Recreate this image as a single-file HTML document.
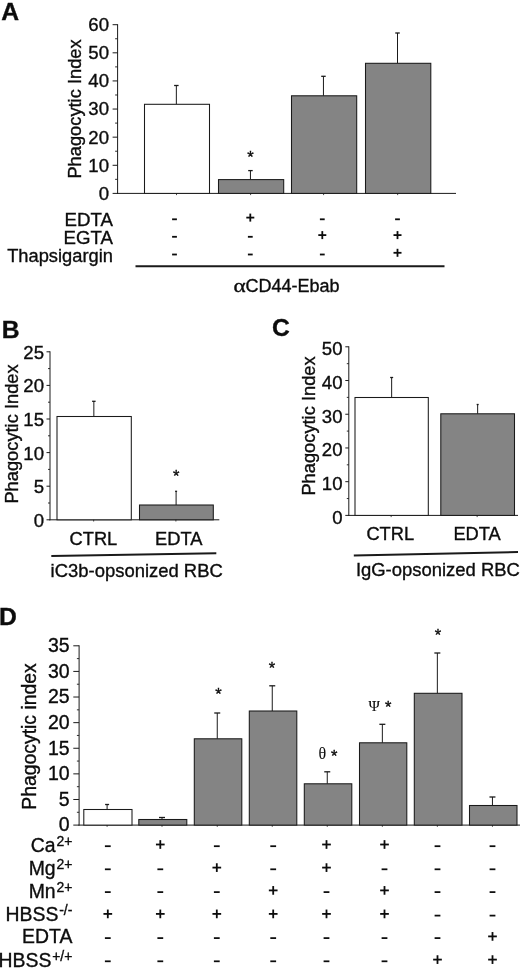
<!DOCTYPE html>
<html><head><meta charset="utf-8"><title>Figure</title>
<style>
html,body{margin:0;padding:0;background:#fff;}
body{width:520px;height:968px;overflow:hidden;font-family:"Liberation Sans",sans-serif;}
svg{display:block;will-change:transform;filter:blur(0.35px);}
svg text{font-family:"Liberation Sans",sans-serif;fill:#0c0c0c;stroke:#0c0c0c;stroke-width:0.35px;}
</style></head><body>
<svg width="520" height="968" viewBox="0 0 520 968">
<rect x="0" y="0" width="520" height="968" fill="#ffffff"/>
<text x="1.3" y="20.3" font-size="24.7" text-anchor="start" font-weight="bold" style="font-family:Liberation Sans" >A</text>
<line x1="117.6" y1="24.2" x2="117.6" y2="193.9" stroke="#1a1a1a" stroke-width="1.0"/>
<line x1="112.6" y1="24.7" x2="117.6" y2="24.7" stroke="#1a1a1a" stroke-width="1.0"/>
<text x="109" y="31.1" font-size="18.6" text-anchor="end" font-weight="normal" style="font-family:Liberation Sans" >60</text>
<line x1="115.1" y1="38.75833333333333" x2="117.6" y2="38.75833333333333" stroke="#1a1a1a" stroke-width="0.9"/>
<line x1="112.6" y1="52.81666666666667" x2="117.6" y2="52.81666666666667" stroke="#1a1a1a" stroke-width="1.0"/>
<text x="109" y="59.21666666666667" font-size="18.6" text-anchor="end" font-weight="normal" style="font-family:Liberation Sans" >50</text>
<line x1="115.1" y1="66.875" x2="117.6" y2="66.875" stroke="#1a1a1a" stroke-width="0.9"/>
<line x1="112.6" y1="80.93333333333334" x2="117.6" y2="80.93333333333334" stroke="#1a1a1a" stroke-width="1.0"/>
<text x="109" y="87.33333333333334" font-size="18.6" text-anchor="end" font-weight="normal" style="font-family:Liberation Sans" >40</text>
<line x1="115.1" y1="94.99166666666667" x2="117.6" y2="94.99166666666667" stroke="#1a1a1a" stroke-width="0.9"/>
<line x1="112.6" y1="109.05000000000001" x2="117.6" y2="109.05000000000001" stroke="#1a1a1a" stroke-width="1.0"/>
<text x="109" y="115.45000000000002" font-size="18.6" text-anchor="end" font-weight="normal" style="font-family:Liberation Sans" >30</text>
<line x1="115.1" y1="123.10833333333335" x2="117.6" y2="123.10833333333335" stroke="#1a1a1a" stroke-width="0.9"/>
<line x1="112.6" y1="137.16666666666669" x2="117.6" y2="137.16666666666669" stroke="#1a1a1a" stroke-width="1.0"/>
<text x="109" y="143.5666666666667" font-size="18.6" text-anchor="end" font-weight="normal" style="font-family:Liberation Sans" >20</text>
<line x1="115.1" y1="151.22500000000002" x2="117.6" y2="151.22500000000002" stroke="#1a1a1a" stroke-width="0.9"/>
<line x1="112.6" y1="165.28333333333333" x2="117.6" y2="165.28333333333333" stroke="#1a1a1a" stroke-width="1.0"/>
<text x="109" y="171.68333333333334" font-size="18.6" text-anchor="end" font-weight="normal" style="font-family:Liberation Sans" >10</text>
<line x1="115.1" y1="179.34166666666667" x2="117.6" y2="179.34166666666667" stroke="#1a1a1a" stroke-width="0.9"/>
<line x1="112.6" y1="193.4" x2="117.6" y2="193.4" stroke="#1a1a1a" stroke-width="1.0"/>
<text x="109" y="199.8" font-size="18.6" text-anchor="end" font-weight="normal" style="font-family:Liberation Sans" >0</text>
<line x1="117.0" y1="193.4" x2="456" y2="193.4" stroke="#1a1a1a" stroke-width="1.0"/>
<line x1="176.35" y1="104.3" x2="176.35" y2="85.5" stroke="#1a1a1a" stroke-width="1.0"/>
<line x1="174.1" y1="85.5" x2="178.6" y2="85.5" stroke="#1a1a1a" stroke-width="1.3"/>
<rect x="144.5" y="104.3" width="65.0" height="89.10000000000001" fill="#ffffff" stroke="#1a1a1a" stroke-width="1.05"/>
<line x1="176.5" y1="193.4" x2="176.5" y2="195.1" stroke="#1a1a1a" stroke-width="0.8"/>
<line x1="250.45" y1="179.6" x2="250.45" y2="170.6" stroke="#1a1a1a" stroke-width="1.0"/>
<line x1="248.2" y1="170.6" x2="252.7" y2="170.6" stroke="#1a1a1a" stroke-width="1.3"/>
<rect x="218.5" y="179.6" width="65.19999999999999" height="13.800000000000011" fill="#848484" stroke="#1a1a1a" stroke-width="1.05"/>
<line x1="250.6" y1="193.4" x2="250.6" y2="195.1" stroke="#1a1a1a" stroke-width="0.8"/>
<line x1="323.45000000000005" y1="95.8" x2="323.45000000000005" y2="76.3" stroke="#1a1a1a" stroke-width="1.0"/>
<line x1="321.20000000000005" y1="76.3" x2="325.70000000000005" y2="76.3" stroke="#1a1a1a" stroke-width="1.3"/>
<rect x="291.5" y="95.8" width="65.19999999999999" height="97.60000000000001" fill="#848484" stroke="#1a1a1a" stroke-width="1.05"/>
<line x1="323.6" y1="193.4" x2="323.6" y2="195.1" stroke="#1a1a1a" stroke-width="0.8"/>
<line x1="397.5" y1="63.3" x2="397.5" y2="33.0" stroke="#1a1a1a" stroke-width="1.0"/>
<line x1="395.25" y1="33.0" x2="399.75" y2="33.0" stroke="#1a1a1a" stroke-width="1.3"/>
<rect x="365.5" y="63.3" width="65.30000000000001" height="130.10000000000002" fill="#848484" stroke="#1a1a1a" stroke-width="1.05"/>
<line x1="397.65" y1="193.4" x2="397.65" y2="195.1" stroke="#1a1a1a" stroke-width="0.8"/>
<text x="250.5" y="162.57" font-size="16.5" text-anchor="middle" font-weight="normal" style="font-family:Liberation Sans" >*</text>
<text transform="translate(81,109) rotate(-90)" font-size="18.3" text-anchor="middle">Phagocytic Index</text>
<text x="0" y="0" font-size="18.3" text-anchor="end" font-weight="normal" style="font-family:Liberation Sans"  transform="translate(112.9,225.6) scale(1.02,0.955)">EDTA</text>
<text x="0" y="0" font-size="18.3" text-anchor="end" font-weight="normal" style="font-family:Liberation Sans"  transform="translate(112.9,243.8) scale(1.02,0.955)">EGTA</text>
<text x="0" y="0" font-size="18.3" text-anchor="end" font-weight="normal" style="font-family:Liberation Sans"  transform="translate(112.9,262.0) scale(1.0,0.955)">Thapsigargin</text>
<rect x="172.1" y="218.4" width="4.8" height="1.8" fill="#0c0c0c"/>
<rect x="246.3" y="216.70000000000002" width="8.0" height="1.8" fill="#0c0c0c"/>
<rect x="249.4" y="213.60000000000002" width="1.8" height="8.0" fill="#0c0c0c"/>
<rect x="319.90000000000003" y="218.4" width="4.8" height="1.8" fill="#0c0c0c"/>
<rect x="395.1" y="218.4" width="4.8" height="1.8" fill="#0c0c0c"/>
<rect x="172.1" y="235.9" width="4.8" height="1.8" fill="#0c0c0c"/>
<rect x="247.9" y="235.9" width="4.8" height="1.8" fill="#0c0c0c"/>
<rect x="318.3" y="234.20000000000002" width="8.0" height="1.8" fill="#0c0c0c"/>
<rect x="321.40000000000003" y="231.10000000000002" width="1.8" height="8.0" fill="#0c0c0c"/>
<rect x="393.5" y="234.20000000000002" width="8.0" height="1.8" fill="#0c0c0c"/>
<rect x="396.6" y="231.10000000000002" width="1.8" height="8.0" fill="#0c0c0c"/>
<rect x="172.1" y="253.6" width="4.8" height="1.8" fill="#0c0c0c"/>
<rect x="247.9" y="253.6" width="4.8" height="1.8" fill="#0c0c0c"/>
<rect x="319.90000000000003" y="253.6" width="4.8" height="1.8" fill="#0c0c0c"/>
<rect x="393.5" y="251.9" width="8.0" height="1.8" fill="#0c0c0c"/>
<rect x="396.6" y="248.8" width="1.8" height="8.0" fill="#0c0c0c"/>
<line x1="135.5" y1="266.3" x2="444.5" y2="266.3" stroke="#1a1a1a" stroke-width="2.0"/>
<text transform="translate(233.6,292.4) scale(1.22,0.95)" font-size="19" style="font-family:Liberation Serif">α</text>
<text x="245.4" y="292.4" font-size="18.0" text-anchor="start" font-weight="normal" style="font-family:Liberation Sans" >CD44-Ebab</text>
<text x="1.8" y="338.2" font-size="24.7" text-anchor="start" font-weight="bold" style="font-family:Liberation Sans" >B</text>
<line x1="50" y1="351.3" x2="50" y2="520.3" stroke="#1a1a1a" stroke-width="1.0"/>
<line x1="46.5" y1="351.8" x2="50" y2="351.8" stroke="#1a1a1a" stroke-width="1.0"/>
<text x="44.0" y="358.7" font-size="18.6" text-anchor="end" font-weight="normal" style="font-family:Liberation Sans" >25</text>
<line x1="48" y1="368.6" x2="50" y2="368.6" stroke="#1a1a1a" stroke-width="0.9"/>
<line x1="46.5" y1="385.4" x2="50" y2="385.4" stroke="#1a1a1a" stroke-width="1.0"/>
<text x="44.0" y="392.29999999999995" font-size="18.6" text-anchor="end" font-weight="normal" style="font-family:Liberation Sans" >20</text>
<line x1="48" y1="402.2" x2="50" y2="402.2" stroke="#1a1a1a" stroke-width="0.9"/>
<line x1="46.5" y1="419.0" x2="50" y2="419.0" stroke="#1a1a1a" stroke-width="1.0"/>
<text x="44.0" y="425.9" font-size="18.6" text-anchor="end" font-weight="normal" style="font-family:Liberation Sans" >15</text>
<line x1="48" y1="435.8" x2="50" y2="435.8" stroke="#1a1a1a" stroke-width="0.9"/>
<line x1="46.5" y1="452.59999999999997" x2="50" y2="452.59999999999997" stroke="#1a1a1a" stroke-width="1.0"/>
<text x="44.0" y="459.49999999999994" font-size="18.6" text-anchor="end" font-weight="normal" style="font-family:Liberation Sans" >10</text>
<line x1="48" y1="469.4" x2="50" y2="469.4" stroke="#1a1a1a" stroke-width="0.9"/>
<line x1="46.5" y1="486.19999999999993" x2="50" y2="486.19999999999993" stroke="#1a1a1a" stroke-width="1.0"/>
<text x="44.0" y="493.0999999999999" font-size="18.6" text-anchor="end" font-weight="normal" style="font-family:Liberation Sans" >5</text>
<line x1="48" y1="502.99999999999994" x2="50" y2="502.99999999999994" stroke="#1a1a1a" stroke-width="0.9"/>
<line x1="46.5" y1="519.8" x2="50" y2="519.8" stroke="#1a1a1a" stroke-width="1.0"/>
<text x="44.0" y="526.6999999999999" font-size="18.6" text-anchor="end" font-weight="normal" style="font-family:Liberation Sans" >0</text>
<line x1="49.4" y1="519.8" x2="219.3" y2="519.8" stroke="#1a1a1a" stroke-width="1.0"/>
<line x1="93.85000000000001" y1="416.5" x2="93.85000000000001" y2="401.3" stroke="#1a1a1a" stroke-width="1.0"/>
<line x1="92.10000000000001" y1="401.3" x2="95.60000000000001" y2="401.3" stroke="#1a1a1a" stroke-width="1.3"/>
<rect x="57" y="416.5" width="74.30000000000001" height="103.29999999999995" fill="#ffffff" stroke="#1a1a1a" stroke-width="1.05"/>
<line x1="93.65" y1="519.8" x2="93.65" y2="521.5" stroke="#1a1a1a" stroke-width="0.8"/>
<line x1="176.1" y1="505" x2="176.1" y2="491.3" stroke="#1a1a1a" stroke-width="1.0"/>
<line x1="175.1" y1="491.3" x2="177.1" y2="491.3" stroke="#1a1a1a" stroke-width="1.3"/>
<rect x="139.5" y="505" width="73.80000000000001" height="14.799999999999955" fill="#848484" stroke="#1a1a1a" stroke-width="1.05"/>
<line x1="175.9" y1="519.8" x2="175.9" y2="521.5" stroke="#1a1a1a" stroke-width="0.8"/>
<text x="176.3" y="481.57" font-size="16.5" text-anchor="middle" font-weight="normal" style="font-family:Liberation Sans" >*</text>
<text transform="translate(18,434) rotate(-90)" font-size="18.3" text-anchor="middle">Phagocytic Index</text>
<text x="93.4" y="544.7" font-size="18.3" text-anchor="middle" font-weight="normal" style="font-family:Liberation Sans" >CTRL</text>
<text x="178.8" y="544.7" font-size="18.3" text-anchor="middle" font-weight="normal" style="font-family:Liberation Sans" >EDTA</text>
<line x1="51.3" y1="556.0" x2="216.3" y2="553.3" stroke="#1a1a1a" stroke-width="2.0"/>
<text x="50.6" y="577.0" font-size="18.45" text-anchor="start" font-weight="normal" style="font-family:Liberation Sans" >iC3b-opsonized RBC</text>
<text x="272" y="336.1" font-size="24.7" text-anchor="start" font-weight="bold" style="font-family:Liberation Sans" >C</text>
<line x1="348.8" y1="346.3" x2="348.8" y2="515.9" stroke="#1a1a1a" stroke-width="1.0"/>
<line x1="345.3" y1="346.8" x2="348.8" y2="346.8" stroke="#1a1a1a" stroke-width="1.0"/>
<text x="342.5" y="355.09999999999997" font-size="18.6" text-anchor="end" font-weight="normal" style="font-family:Liberation Sans" >50</text>
<line x1="346.8" y1="363.66" x2="348.8" y2="363.66" stroke="#1a1a1a" stroke-width="0.9"/>
<line x1="345.3" y1="380.52" x2="348.8" y2="380.52" stroke="#1a1a1a" stroke-width="1.0"/>
<text x="342.5" y="388.81999999999994" font-size="18.6" text-anchor="end" font-weight="normal" style="font-family:Liberation Sans" >40</text>
<line x1="346.8" y1="397.38" x2="348.8" y2="397.38" stroke="#1a1a1a" stroke-width="0.9"/>
<line x1="345.3" y1="414.24" x2="348.8" y2="414.24" stroke="#1a1a1a" stroke-width="1.0"/>
<text x="342.5" y="422.53999999999996" font-size="18.6" text-anchor="end" font-weight="normal" style="font-family:Liberation Sans" >30</text>
<line x1="346.8" y1="431.1" x2="348.8" y2="431.1" stroke="#1a1a1a" stroke-width="0.9"/>
<line x1="345.3" y1="447.96" x2="348.8" y2="447.96" stroke="#1a1a1a" stroke-width="1.0"/>
<text x="342.5" y="456.25999999999993" font-size="18.6" text-anchor="end" font-weight="normal" style="font-family:Liberation Sans" >20</text>
<line x1="346.8" y1="464.82" x2="348.8" y2="464.82" stroke="#1a1a1a" stroke-width="0.9"/>
<line x1="345.3" y1="481.67999999999995" x2="348.8" y2="481.67999999999995" stroke="#1a1a1a" stroke-width="1.0"/>
<text x="342.5" y="489.9799999999999" font-size="18.6" text-anchor="end" font-weight="normal" style="font-family:Liberation Sans" >10</text>
<line x1="346.8" y1="498.53999999999996" x2="348.8" y2="498.53999999999996" stroke="#1a1a1a" stroke-width="0.9"/>
<line x1="345.3" y1="515.4" x2="348.8" y2="515.4" stroke="#1a1a1a" stroke-width="1.0"/>
<text x="342.5" y="523.6999999999999" font-size="18.6" text-anchor="end" font-weight="normal" style="font-family:Liberation Sans" >0</text>
<line x1="348.2" y1="515.4" x2="518" y2="515.4" stroke="#1a1a1a" stroke-width="1.0"/>
<line x1="391.65" y1="397.5" x2="391.65" y2="377.5" stroke="#1a1a1a" stroke-width="1.0"/>
<line x1="390.15" y1="377.5" x2="393.15" y2="377.5" stroke="#1a1a1a" stroke-width="1.3"/>
<rect x="355" y="397.5" width="73.30000000000001" height="117.89999999999998" fill="#ffffff" stroke="#1a1a1a" stroke-width="1.05"/>
<line x1="391.15" y1="515.4" x2="391.15" y2="517.1" stroke="#1a1a1a" stroke-width="0.8"/>
<line x1="477.65" y1="413.8" x2="477.65" y2="404.5" stroke="#1a1a1a" stroke-width="1.0"/>
<line x1="476.65" y1="404.5" x2="478.65" y2="404.5" stroke="#1a1a1a" stroke-width="1.3"/>
<rect x="440.8" y="413.8" width="73.69999999999999" height="101.59999999999997" fill="#848484" stroke="#1a1a1a" stroke-width="1.05"/>
<line x1="477.15" y1="515.4" x2="477.15" y2="517.1" stroke="#1a1a1a" stroke-width="0.8"/>
<text transform="translate(315,426) rotate(-90)" font-size="18.3" text-anchor="middle">Phagocytic Index</text>
<text x="390.3" y="540.2" font-size="18.3" text-anchor="middle" font-weight="normal" style="font-family:Liberation Sans" >CTRL</text>
<text x="477.1" y="540.2" font-size="18.3" text-anchor="middle" font-weight="normal" style="font-family:Liberation Sans" >EDTA</text>
<line x1="353.8" y1="555.6" x2="518" y2="552.1" stroke="#1a1a1a" stroke-width="2.0"/>
<text x="355.9" y="576.3" font-size="18.45" text-anchor="start" font-weight="normal" style="font-family:Liberation Sans" >IgG-opsonized RBC</text>
<text x="-1.0" y="624.5" font-size="24.7" text-anchor="start" font-weight="bold" style="font-family:Liberation Sans" >D</text>
<line x1="79.1" y1="645.3" x2="79.1" y2="825.6" stroke="#1a1a1a" stroke-width="1.0"/>
<line x1="73.3" y1="645.8" x2="79.1" y2="645.8" stroke="#1a1a1a" stroke-width="1.0"/>
<text x="69.6" y="652.0999999999999" font-size="19.5" text-anchor="end" font-weight="normal" style="font-family:Liberation Sans" >35</text>
<line x1="76.89999999999999" y1="658.6071428571428" x2="79.1" y2="658.6071428571428" stroke="#1a1a1a" stroke-width="0.9"/>
<line x1="73.3" y1="671.4142857142857" x2="79.1" y2="671.4142857142857" stroke="#1a1a1a" stroke-width="1.0"/>
<text x="69.6" y="677.7142857142857" font-size="19.5" text-anchor="end" font-weight="normal" style="font-family:Liberation Sans" >30</text>
<line x1="76.89999999999999" y1="684.2214285714285" x2="79.1" y2="684.2214285714285" stroke="#1a1a1a" stroke-width="0.9"/>
<line x1="73.3" y1="697.0285714285714" x2="79.1" y2="697.0285714285714" stroke="#1a1a1a" stroke-width="1.0"/>
<text x="69.6" y="703.3285714285713" font-size="19.5" text-anchor="end" font-weight="normal" style="font-family:Liberation Sans" >25</text>
<line x1="76.89999999999999" y1="709.8357142857142" x2="79.1" y2="709.8357142857142" stroke="#1a1a1a" stroke-width="0.9"/>
<line x1="73.3" y1="722.6428571428571" x2="79.1" y2="722.6428571428571" stroke="#1a1a1a" stroke-width="1.0"/>
<text x="69.6" y="728.9428571428571" font-size="19.5" text-anchor="end" font-weight="normal" style="font-family:Liberation Sans" >20</text>
<line x1="76.89999999999999" y1="735.4499999999999" x2="79.1" y2="735.4499999999999" stroke="#1a1a1a" stroke-width="0.9"/>
<line x1="73.3" y1="748.2571428571429" x2="79.1" y2="748.2571428571429" stroke="#1a1a1a" stroke-width="1.0"/>
<text x="69.6" y="754.5571428571428" font-size="19.5" text-anchor="end" font-weight="normal" style="font-family:Liberation Sans" >15</text>
<line x1="76.89999999999999" y1="761.0642857142857" x2="79.1" y2="761.0642857142857" stroke="#1a1a1a" stroke-width="0.9"/>
<line x1="73.3" y1="773.8714285714286" x2="79.1" y2="773.8714285714286" stroke="#1a1a1a" stroke-width="1.0"/>
<text x="69.6" y="780.1714285714286" font-size="19.5" text-anchor="end" font-weight="normal" style="font-family:Liberation Sans" >10</text>
<line x1="76.89999999999999" y1="786.6785714285714" x2="79.1" y2="786.6785714285714" stroke="#1a1a1a" stroke-width="0.9"/>
<line x1="73.3" y1="799.4857142857143" x2="79.1" y2="799.4857142857143" stroke="#1a1a1a" stroke-width="1.0"/>
<text x="69.6" y="805.7857142857142" font-size="19.5" text-anchor="end" font-weight="normal" style="font-family:Liberation Sans" >5</text>
<line x1="76.89999999999999" y1="812.2928571428571" x2="79.1" y2="812.2928571428571" stroke="#1a1a1a" stroke-width="0.9"/>
<line x1="73.3" y1="825.1" x2="79.1" y2="825.1" stroke="#1a1a1a" stroke-width="1.0"/>
<text x="69.6" y="831.4" font-size="19.5" text-anchor="end" font-weight="normal" style="font-family:Liberation Sans" >0</text>
<line x1="78.5" y1="825.1" x2="520" y2="825.1" stroke="#1a1a1a" stroke-width="1.0"/>
<line x1="107.10000000000001" y1="809.5" x2="107.10000000000001" y2="804.5" stroke="#1a1a1a" stroke-width="1.0"/>
<line x1="105.10000000000001" y1="804.5" x2="109.10000000000001" y2="804.5" stroke="#1a1a1a" stroke-width="1.3"/>
<rect x="83.8" y="809.5" width="48.2" height="15.600000000000023" fill="#ffffff" stroke="#1a1a1a" stroke-width="1.05"/>
<line x1="107.10000000000001" y1="825.1" x2="107.10000000000001" y2="826.8000000000001" stroke="#1a1a1a" stroke-width="0.8"/>
<line x1="162.0" y1="819.5" x2="162.0" y2="817.5" stroke="#1a1a1a" stroke-width="1.0"/>
<line x1="159.0" y1="817.5" x2="165.0" y2="817.5" stroke="#1a1a1a" stroke-width="1.3"/>
<rect x="138.8" y="819.5" width="48.0" height="5.600000000000023" fill="#848484" stroke="#1a1a1a" stroke-width="1.05"/>
<line x1="162.0" y1="825.1" x2="162.0" y2="826.8000000000001" stroke="#1a1a1a" stroke-width="0.8"/>
<line x1="217.25" y1="738.8" x2="217.25" y2="713" stroke="#1a1a1a" stroke-width="1.0"/>
<line x1="214.25" y1="713" x2="220.25" y2="713" stroke="#1a1a1a" stroke-width="1.3"/>
<rect x="194.3" y="738.8" width="47.5" height="86.30000000000007" fill="#848484" stroke="#1a1a1a" stroke-width="1.05"/>
<line x1="217.25" y1="825.1" x2="217.25" y2="826.8000000000001" stroke="#1a1a1a" stroke-width="0.8"/>
<line x1="272.25" y1="711" x2="272.25" y2="685.8" stroke="#1a1a1a" stroke-width="1.0"/>
<line x1="269.25" y1="685.8" x2="275.25" y2="685.8" stroke="#1a1a1a" stroke-width="1.3"/>
<rect x="249.3" y="711" width="47.5" height="114.10000000000002" fill="#848484" stroke="#1a1a1a" stroke-width="1.05"/>
<line x1="272.25" y1="825.1" x2="272.25" y2="826.8000000000001" stroke="#1a1a1a" stroke-width="0.8"/>
<line x1="327.25" y1="783.8" x2="327.25" y2="771.8" stroke="#1a1a1a" stroke-width="1.0"/>
<line x1="324.25" y1="771.8" x2="330.25" y2="771.8" stroke="#1a1a1a" stroke-width="1.3"/>
<rect x="304.3" y="783.8" width="47.5" height="41.30000000000007" fill="#848484" stroke="#1a1a1a" stroke-width="1.05"/>
<line x1="327.25" y1="825.1" x2="327.25" y2="826.8000000000001" stroke="#1a1a1a" stroke-width="0.8"/>
<line x1="382.34999999999997" y1="742.8" x2="382.34999999999997" y2="724.3" stroke="#1a1a1a" stroke-width="1.0"/>
<line x1="379.34999999999997" y1="724.3" x2="385.34999999999997" y2="724.3" stroke="#1a1a1a" stroke-width="1.3"/>
<rect x="359.5" y="742.8" width="47.30000000000001" height="82.30000000000007" fill="#848484" stroke="#1a1a1a" stroke-width="1.05"/>
<line x1="382.34999999999997" y1="825.1" x2="382.34999999999997" y2="826.8000000000001" stroke="#1a1a1a" stroke-width="0.8"/>
<line x1="437.34999999999997" y1="693.3" x2="437.34999999999997" y2="653" stroke="#1a1a1a" stroke-width="1.0"/>
<line x1="434.34999999999997" y1="653" x2="440.34999999999997" y2="653" stroke="#1a1a1a" stroke-width="1.3"/>
<rect x="414.3" y="693.3" width="47.69999999999999" height="131.80000000000007" fill="#848484" stroke="#1a1a1a" stroke-width="1.05"/>
<line x1="437.34999999999997" y1="825.1" x2="437.34999999999997" y2="826.8000000000001" stroke="#1a1a1a" stroke-width="0.8"/>
<line x1="492.45" y1="805.5" x2="492.45" y2="797" stroke="#1a1a1a" stroke-width="1.0"/>
<line x1="489.45" y1="797" x2="495.45" y2="797" stroke="#1a1a1a" stroke-width="1.3"/>
<rect x="469.5" y="805.5" width="47.5" height="19.600000000000023" fill="#848484" stroke="#1a1a1a" stroke-width="1.05"/>
<line x1="492.45" y1="825.1" x2="492.45" y2="826.8000000000001" stroke="#1a1a1a" stroke-width="0.8"/>
<text transform="translate(36,736.5) rotate(-90)" font-size="19.4" text-anchor="middle">Phagocytic index</text>
<text x="218.5" y="700.37" font-size="16.5" text-anchor="middle" font-weight="normal" style="font-family:Liberation Sans" >*</text>
<text x="272" y="673.57" font-size="16.5" text-anchor="middle" font-weight="normal" style="font-family:Liberation Sans" >*</text>
<text x="438" y="641.07" font-size="16.5" text-anchor="middle" font-weight="normal" style="font-family:Liberation Sans" >*</text>
<text x="318.4" y="759.3" font-size="16" text-anchor="start" font-weight="normal" style="font-family:Liberation Serif;stroke-width:0.08px" >θ</text>
<text x="334.3" y="762.2700000000001" font-size="16.5" text-anchor="middle" font-weight="normal" style="font-family:Liberation Sans" >*</text>
<text x="368.6" y="710.9" font-size="15.4" text-anchor="start" font-weight="normal" style="font-family:Liberation Serif;stroke-width:0.08px" >Ψ</text>
<text x="388.1" y="712.97" font-size="16.5" text-anchor="middle" font-weight="normal" style="font-family:Liberation Sans" >*</text>
<text x="72.4" y="851.8" font-size="19.4" text-anchor="end" font-weight="normal" style="font-family:Liberation Sans" >Ca<tspan font-size="14" dy="-6.0" dx="0.8">2+</tspan></text>
<text x="72.4" y="874.8" font-size="19.4" text-anchor="end" font-weight="normal" style="font-family:Liberation Sans" >Mg<tspan font-size="14" dy="-6.0" dx="0.8">2+</tspan></text>
<text x="72.4" y="897.7" font-size="19.4" text-anchor="end" font-weight="normal" style="font-family:Liberation Sans" >Mn<tspan font-size="14" dy="-6.0" dx="0.8">2+</tspan></text>
<text x="72.4" y="920.7" font-size="19.4" text-anchor="end" font-weight="normal" style="font-family:Liberation Sans" >HBSS<tspan font-size="14" dy="-6.0" dx="0.8">-/-</tspan></text>
<text x="72.4" y="942.9" font-size="19.4" text-anchor="end" font-weight="normal" style="font-family:Liberation Sans" >EDTA</text>
<text x="72.4" y="966.5" font-size="19.4" text-anchor="end" font-weight="normal" style="font-family:Liberation Sans" >HBSS<tspan font-size="14" dy="-6.0" dx="0.8">+/+</tspan></text>
<rect x="104.89999999999999" y="845.325" width="5.8" height="1.75" fill="#0c0c0c"/>
<rect x="155.95000000000002" y="843.6" width="8.7" height="1.8" fill="#0c0c0c"/>
<rect x="159.4" y="840.15" width="1.8" height="8.7" fill="#0c0c0c"/>
<rect x="213.9" y="845.325" width="5.8" height="1.75" fill="#0c0c0c"/>
<rect x="270.3" y="845.325" width="5.8" height="1.75" fill="#0c0c0c"/>
<rect x="322.15" y="843.6" width="8.7" height="1.8" fill="#0c0c0c"/>
<rect x="325.6" y="840.15" width="1.8" height="8.7" fill="#0c0c0c"/>
<rect x="380.15" y="843.6" width="8.7" height="1.8" fill="#0c0c0c"/>
<rect x="383.6" y="840.15" width="1.8" height="8.7" fill="#0c0c0c"/>
<rect x="434.6" y="845.325" width="5.8" height="1.75" fill="#0c0c0c"/>
<rect x="489.6" y="845.325" width="5.8" height="1.75" fill="#0c0c0c"/>
<rect x="104.89999999999999" y="868.425" width="5.8" height="1.75" fill="#0c0c0c"/>
<rect x="157.4" y="868.425" width="5.8" height="1.75" fill="#0c0c0c"/>
<rect x="212.45000000000002" y="866.6999999999999" width="8.7" height="1.8" fill="#0c0c0c"/>
<rect x="215.9" y="863.2499999999999" width="1.8" height="8.7" fill="#0c0c0c"/>
<rect x="270.3" y="868.425" width="5.8" height="1.75" fill="#0c0c0c"/>
<rect x="322.15" y="866.6999999999999" width="8.7" height="1.8" fill="#0c0c0c"/>
<rect x="325.6" y="863.2499999999999" width="1.8" height="8.7" fill="#0c0c0c"/>
<rect x="381.6" y="868.425" width="5.8" height="1.75" fill="#0c0c0c"/>
<rect x="434.6" y="868.425" width="5.8" height="1.75" fill="#0c0c0c"/>
<rect x="489.6" y="868.425" width="5.8" height="1.75" fill="#0c0c0c"/>
<rect x="104.89999999999999" y="891.225" width="5.8" height="1.75" fill="#0c0c0c"/>
<rect x="157.4" y="891.225" width="5.8" height="1.75" fill="#0c0c0c"/>
<rect x="213.9" y="891.225" width="5.8" height="1.75" fill="#0c0c0c"/>
<rect x="268.84999999999997" y="889.5" width="8.7" height="1.8" fill="#0c0c0c"/>
<rect x="272.3" y="886.05" width="1.8" height="8.7" fill="#0c0c0c"/>
<rect x="323.6" y="891.225" width="5.8" height="1.75" fill="#0c0c0c"/>
<rect x="380.15" y="889.5" width="8.7" height="1.8" fill="#0c0c0c"/>
<rect x="383.6" y="886.05" width="1.8" height="8.7" fill="#0c0c0c"/>
<rect x="434.6" y="891.225" width="5.8" height="1.75" fill="#0c0c0c"/>
<rect x="489.6" y="891.225" width="5.8" height="1.75" fill="#0c0c0c"/>
<rect x="103.45" y="913.0" width="8.7" height="1.8" fill="#0c0c0c"/>
<rect x="106.89999999999999" y="909.55" width="1.8" height="8.7" fill="#0c0c0c"/>
<rect x="155.95000000000002" y="913.0" width="8.7" height="1.8" fill="#0c0c0c"/>
<rect x="159.4" y="909.55" width="1.8" height="8.7" fill="#0c0c0c"/>
<rect x="212.45000000000002" y="913.0" width="8.7" height="1.8" fill="#0c0c0c"/>
<rect x="215.9" y="909.55" width="1.8" height="8.7" fill="#0c0c0c"/>
<rect x="268.84999999999997" y="913.0" width="8.7" height="1.8" fill="#0c0c0c"/>
<rect x="272.3" y="909.55" width="1.8" height="8.7" fill="#0c0c0c"/>
<rect x="322.15" y="913.0" width="8.7" height="1.8" fill="#0c0c0c"/>
<rect x="325.6" y="909.55" width="1.8" height="8.7" fill="#0c0c0c"/>
<rect x="380.15" y="913.0" width="8.7" height="1.8" fill="#0c0c0c"/>
<rect x="383.6" y="909.55" width="1.8" height="8.7" fill="#0c0c0c"/>
<rect x="434.6" y="914.725" width="5.8" height="1.75" fill="#0c0c0c"/>
<rect x="489.6" y="914.725" width="5.8" height="1.75" fill="#0c0c0c"/>
<rect x="104.89999999999999" y="937.225" width="5.8" height="1.75" fill="#0c0c0c"/>
<rect x="157.4" y="937.225" width="5.8" height="1.75" fill="#0c0c0c"/>
<rect x="213.9" y="937.225" width="5.8" height="1.75" fill="#0c0c0c"/>
<rect x="270.3" y="937.225" width="5.8" height="1.75" fill="#0c0c0c"/>
<rect x="323.6" y="937.225" width="5.8" height="1.75" fill="#0c0c0c"/>
<rect x="381.6" y="937.225" width="5.8" height="1.75" fill="#0c0c0c"/>
<rect x="434.6" y="937.225" width="5.8" height="1.75" fill="#0c0c0c"/>
<rect x="488.15" y="935.5" width="8.7" height="1.8" fill="#0c0c0c"/>
<rect x="491.6" y="932.05" width="1.8" height="8.7" fill="#0c0c0c"/>
<rect x="104.89999999999999" y="960.425" width="5.8" height="1.75" fill="#0c0c0c"/>
<rect x="157.4" y="960.425" width="5.8" height="1.75" fill="#0c0c0c"/>
<rect x="213.9" y="960.425" width="5.8" height="1.75" fill="#0c0c0c"/>
<rect x="270.3" y="960.425" width="5.8" height="1.75" fill="#0c0c0c"/>
<rect x="323.6" y="960.425" width="5.8" height="1.75" fill="#0c0c0c"/>
<rect x="381.6" y="960.425" width="5.8" height="1.75" fill="#0c0c0c"/>
<rect x="433.15" y="958.6999999999999" width="8.7" height="1.8" fill="#0c0c0c"/>
<rect x="436.6" y="955.2499999999999" width="1.8" height="8.7" fill="#0c0c0c"/>
<rect x="488.15" y="958.6999999999999" width="8.7" height="1.8" fill="#0c0c0c"/>
<rect x="491.6" y="955.2499999999999" width="1.8" height="8.7" fill="#0c0c0c"/>
</svg>
</body></html>
